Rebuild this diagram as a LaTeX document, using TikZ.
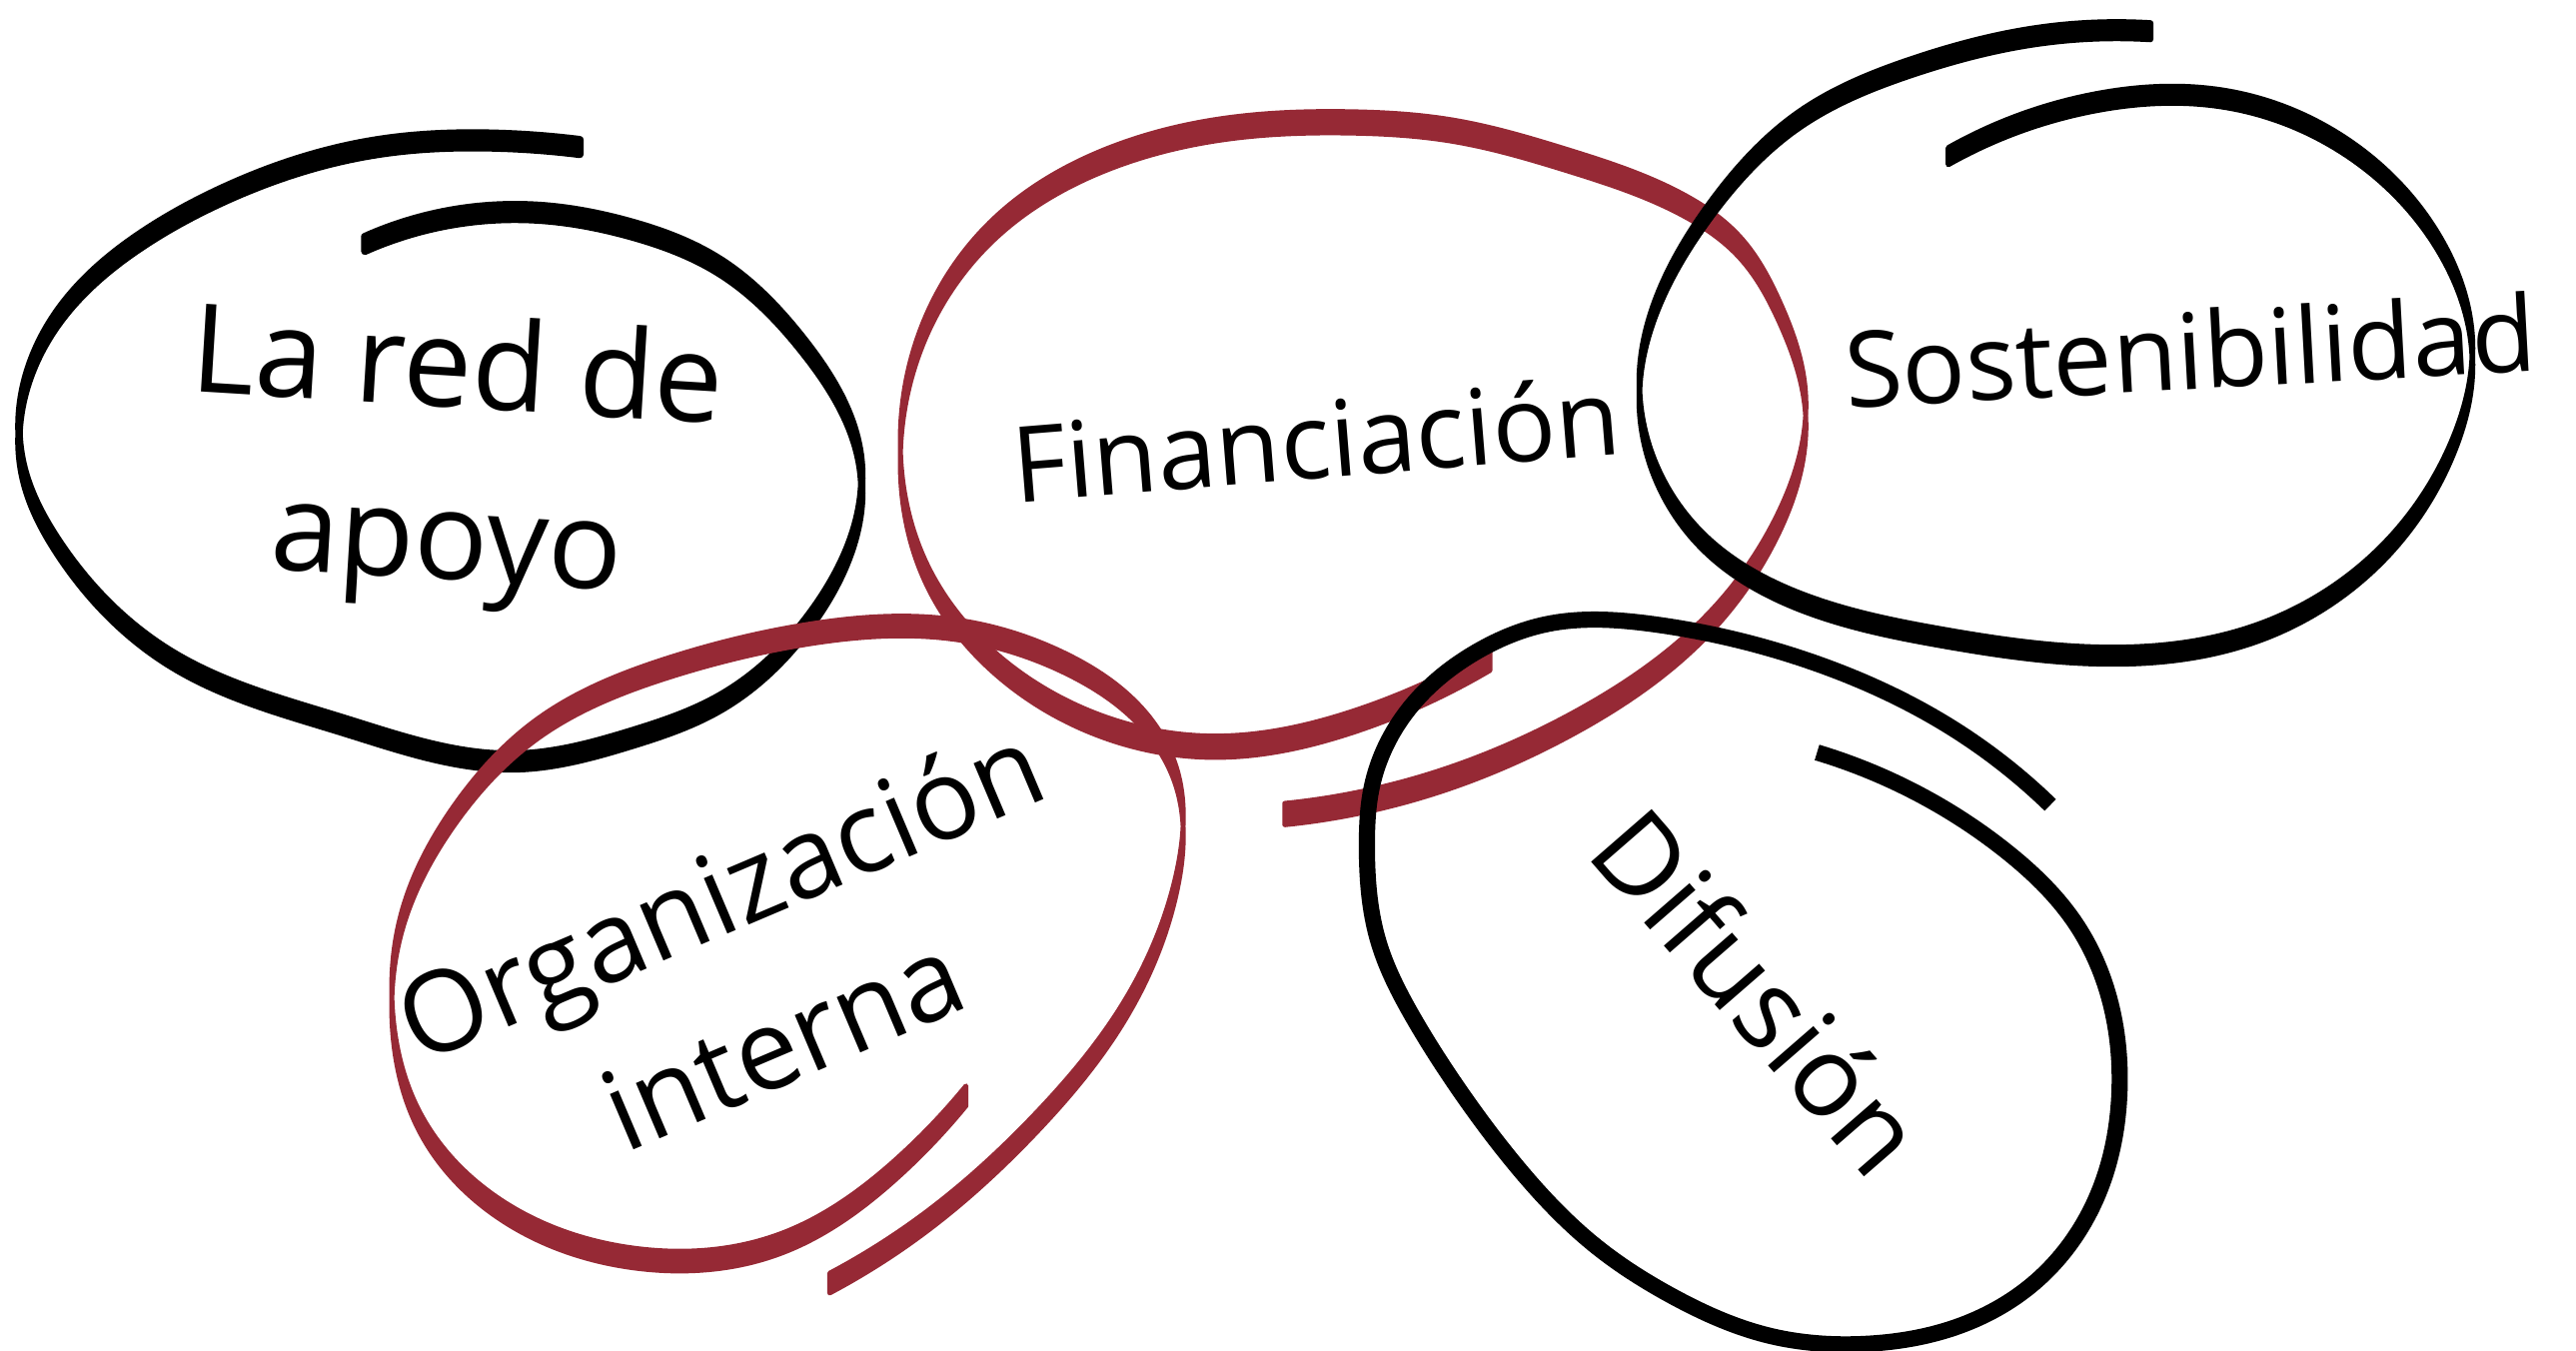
\documentclass[tikz,border=0pt]{standalone}
\usepackage{fontspec}
\setmainfont{Open Sans}
\usetikzlibrary{positioning,hobby}
\definecolor{wine}{RGB}{150,41,53}

\begin{document}
\begin{tikzpicture}[x=0.01644cm, y=-0.01644cm,
        brush/.style={line width=#1, line join=round, use Hobby shortcut},
        brush/.default=1.4pt,
        word/.style={inner sep=0pt, align=center}
    ]
    \useasboundingbox (0,0) rectangle (1568,822);

    % la red de apoyo
    \filldraw[brush=2.1pt] (353,85) .. (297,81) .. (230,85) .. (136,114) .. (87,141) .. (33,192) .. (14,282) .. (35,328) .. (105,397) .. (209,437) .. (314,459) .. (384,445) .. (437,424) .. (496,369) .. (524,279) .. (489,206) .. (437,157) .. (384,135) .. (328,125) .. (222,144)
        -- (222,153) .. (328,134) .. (384,144) .. (437,166) .. (489,215) .. (524,288) .. (496,378) .. (437,433) .. (384,454) .. (314,468) .. (209,446) .. (105,406) .. (35,337) .. (14,291) .. (33,201) .. (87,150) .. (136,123) .. (230,94) .. (297,90) .. (353,94) -- cycle;

    % financiacion
    \filldraw[brush, wine] (782,489) .. (867,472) .. (959,433) .. (1044,369) .. (1081,315) .. (1099,239) .. (1083,183) .. (1059,144) .. (1024,118) .. (954,91) .. (884,73) .. (822,68) .. (745,72) .. (675,90) .. (605,133) .. (570,179) .. (548,270) .. (565,345) .. (609,400) .. (664,433) .. (738,448) .. (823,433) .. (907,395)
        -- (907,408) .. (823,446) .. (738,461) .. (664,446) .. (609,413) .. (565,358) .. (548,283) .. (570,192) .. (605,146) .. (675,103) .. (745,85) .. (822,81) .. (884,86) .. (954,104) .. (1024,131) .. (1059,157) .. (1083,196) .. (1099,252) .. (1081,328) .. (1044,382) .. (959,446) .. (867,485) .. (782,502) -- cycle;

    % organizacion interna
    \filldraw[brush, wine] (505,775) .. (562,739) .. (632,676) .. (684,610) .. (716,532) .. (716,467) .. (695,431) .. (649,398) .. (580,377) .. (492,380) .. (405,401) .. (328,437) .. (276,491) .. (244,557) .. (239,616) .. (255,676) .. (300,727) .. (388,760) .. (475,751) .. (545,706) .. (588,661)
        -- (588,673) .. (545,718) .. (475,763) .. (388,772) .. (300,739) .. (255,688) .. (239,628) .. (244,569) .. (276,503) .. (328,449) .. (405,413) .. (492,392) .. (580,389) .. (649,410) .. (695,443) .. (716,479) .. (716,544) .. (684,622) .. (632,688) .. (562,751) .. (505,787) -- cycle;

    % sostenibilidad
    \filldraw[brush=1.6pt] (1309,14) .. (1239,17) .. (1163,36) .. (1095,68) .. (1041,123) .. (1011,174) .. (998,226) .. (1007,280) .. (1038,326) .. (1098,362) .. (1182,383) .. (1277,394) .. (1372,381) .. (1448,334) .. (1493,267) .. (1505,212) .. (1485,144) .. (1429,85) .. (1353,55) .. (1277,57) .. (1186,90)
        -- (1186,100) .. (1277,67) .. (1353,65) .. (1429,95) .. (1485,154) .. (1505,222) .. (1493,277) .. (1448,344) .. (1372,391) .. (1277,404) .. (1182,393) .. (1098,372) .. (1038,336) .. (1007,290) .. (998,236) .. (1011,184) .. (1041,133) .. (1095,78) .. (1163,46) .. (1239,27) .. (1309,24) -- cycle;

    % difusion
    \draw[brush=4.6pt] (1248,490) .. (1188,443) .. (1106,404) .. (1007,380) .. (941,380) .. (900,396) .. (858,431) .. (835,479) .. (832,515) .. (839,573) .. (860,619) .. (890,666) .. (925,712) .. (972,759) .. (1018,789) .. (1077,813) .. (1135,818) .. (1190,808) .. (1238,781) .. (1277,727) .. (1290,667) .. (1284,608) .. (1264,563) .. (1221,518) .. (1171,485) .. (1106,458);

    \node[word, rotate=-3.5, font=\fontsize{35}{49}\selectfont] (red) at (275,281) {La red de\\apoyo};
    \node[word, rotate=4.6, font=\fontsize{30}{36}\selectfont] (fin) at (801,267) {Financiación};
    \node[word, rotate=23, font=\fontsize{32}{46}\selectfont] (org) at (457,588) {Organización\\interna};
    \node[word, rotate=3.1, font=\fontsize{30}{36}\selectfont] (sos) at (1333,213) {Sostenibilidad};
    \node[word, rotate=-49, font=\fontsize{32}{40}\selectfont] (dif) at (1071,603) {Difusión};
\end{tikzpicture}
\end{document}
